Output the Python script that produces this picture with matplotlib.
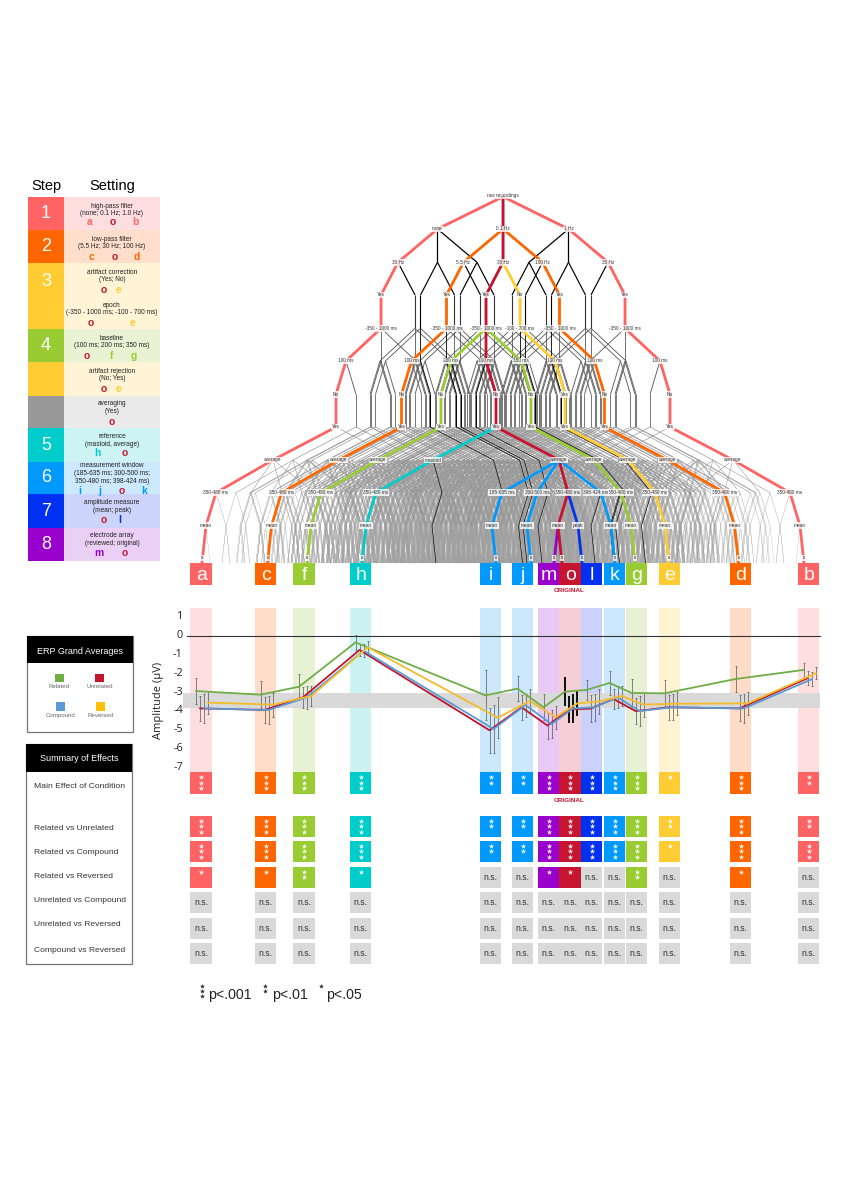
import matplotlib
matplotlib.use('Agg')
import matplotlib.pyplot as plt
from matplotlib.collections import LineCollection
from matplotlib.patches import Rectangle
from matplotlib.transforms import ScaledTranslation

plt.rcParams['font.family'] = ['Liberation Sans', 'DejaVu Sans']

# ---- data ----
letters = ['a', 'c', 'f', 'h', 'i', 'j', 'm', 'o', 'l', 'k', 'g', 'e', 'd', 'b']

related = [-2.92, -3.11, -2.69, -0.34, -3.15, -2.79, -3.78, -2.95, -2.86, -2.49, -3.02, -3.04, -2.28, -1.80]
unrelated = [-3.84, -3.92, -3.25, -0.74, -5.00, -3.78, -4.75, -3.89, -3.85, -3.34, -3.98, -3.78, -3.84, -2.24]
compound = [-3.84, -3.92, -3.25, -0.78, -4.93, -3.66, -4.67, -3.84, -3.78, -3.25, -3.98, -3.78, -3.84, -2.30]
reversed_ = [-3.53, -3.64, -3.18, -0.60, -4.33, -3.45, -4.31, -3.57, -3.48, -3.18, -3.64, -3.59, -3.57, -1.98]

related_err = [.71, .72, .65, .40, 1.33, .66, .68, .71, .51, .62, .74, .70, .71, .37]
unrelated_err = [.66, .69, .57, .33, 1.18, .65, .69, .68, .71, .55, .70, .65, .69, .37]
compound_err = [.75, .76, .62, .34, 1.28, .61, .74, .73, .72, .59, .79, .68, .75, .37]
reversed_err = [.62, .64, .51, .34, 1.09, .64, .62, .62, .65, .53, .64, .62, .62, .32]

main_effect = [3, 3, 3, 3, 2, 2, 3, 3, 3, 3, 3, 1, 3, 2]
rel_unrel = [3, 3, 3, 3, 2, 2, 3, 3, 3, 3, 3, 2, 3, 2]
rel_comp = [3, 3, 3, 3, 2, 2, 3, 3, 3, 3, 3, 1, 3, 3]
rel_rev = [1, 1, 2, 1, 0, 0, 1, 1, 0, 0, 2, 0, 1, 0]
unrel_comp = [0] * 14
unrel_rev = [0] * 14
comp_rev = [0] * 14

row_names = ['Main Effect of Condition', 'Related vs Unrelated', 'Related vs Compound', 'Related vs Reversed',
             'Unrelated vs Compound', 'Unrelated vs Reversed', 'Compound vs Reversed']

steps = ['1', '2', '3', '', '4', '', '', '5', '6', '7', '8']
settings = ['high-pass filter\n(none; 0.1 Hz; 1.0 Hz)', 'low-pass filter\n(5.5 Hz; 30 Hz; 100 Hz)',
            'artifact correction\n(Yes; No)', 'epoch\n(-350 - 1000 ms; -100 - 700 ms)',
            'baseline\n(100 ms; 200 ms; 350 ms)', 'artifact rejection\n(No; Yes)', 'averaging\n(Yes)',
            'reference\n(mastoid, average)', 'measurement window\n(185-635 ms; 300-500 ms;\n350-480 ms; 398-424 ms)',
            'amplitude measure\n(mean; peak)', 'electrode array\n(reviewed; original)']
setting_letters = ['a o b', 'c o d', 'o e', 'o e', 'o f g', 'o e', 'o', 'h o', 'i j o k', 'o l', 'm o']

# choice taken at each decision of the tree, for every labelled pipeline
paths = {
    'a': [0, 0, 0, 0, 0, 0, 0, 0, 0, 0, 0],
    'b': [2, 2, 1, 0, 2, 1, 0, 1, 3, 1, 1],
    'c': [1, 0, 0, 0, 0, 0, 0, 0, 0, 0, 0],
    'd': [1, 2, 1, 0, 2, 1, 0, 1, 3, 1, 1],
    'e': [1, 1, 1, 0, 2, 1, 0, 1, 2, 1, 1],
    'f': [1, 1, 0, 0, 0, 0, 0, 0, 0, 0, 0],
    'g': [1, 1, 0, 0, 2, 1, 0, 1, 2, 1, 1],
    'h': [1, 1, 0, 0, 1, 1, 0, 0, 0, 0, 0],
    'i': [1, 1, 0, 0, 1, 1, 0, 1, 0, 0, 1],
    'j': [1, 1, 0, 0, 1, 1, 0, 1, 1, 0, 1],
    'k': [1, 1, 0, 0, 1, 1, 0, 1, 3, 1, 1],
    'l': [1, 1, 0, 0, 1, 1, 0, 1, 2, 1, 1],
    'm': [1, 1, 0, 0, 1, 1, 0, 1, 2, 0, 0],
    'o': [1, 1, 0, 0, 1, 1, 0, 1, 2, 0, 1],
}
path_labels = {
    'a': ['none', '30 Hz', 'Yes', '-350 - 1000 ms', '100 ms', 'No', 'Yes', 'average', '350-480 ms', 'mean', 'B'],
    'b': ['1 Hz', '30 Hz', 'Yes', '-350 - 1000 ms', '100 ms', 'No', 'Yes', 'average', '350-480 ms', 'mean', 'B'],
    'c': ['0.1 Hz', '5.5 Hz', 'Yes', '-350 - 1000 ms', '100 ms', 'No', 'Yes', 'average', '350-480 ms', 'mean', 'B'],
    'd': ['0.1 Hz', '100 Hz', 'Yes', '-350 - 1000 ms', '100 ms', 'No', 'Yes', 'average', '350-480 ms', 'mean', 'B'],
    'e': ['0.1 Hz', '30 Hz', 'No', '-100 - 700 ms', '100 ms', 'Yes', 'Yes', 'average', '350-480 ms', 'mean', 'B'],
    'f': ['0.1 Hz', '30 Hz', 'Yes', '-350 - 1000 ms', '200 ms', 'No', 'Yes', 'average', '350-480 ms', 'mean', 'B'],
    'g': ['0.1 Hz', '30 Hz', 'Yes', '-350 - 1000 ms', '350 ms', 'No', 'Yes', 'average', '350-480 ms', 'mean', 'B'],
    'h': ['0.1 Hz', '30 Hz', 'Yes', '-350 - 1000 ms', '100 ms', 'No', 'Yes', 'mastoid', '350-480 ms', 'mean', 'B'],
    'i': ['0.1 Hz', '30 Hz', 'Yes', '-350 - 1000 ms', '100 ms', 'No', 'Yes', 'average', '185-635 ms', 'mean', 'B'],
    'j': ['0.1 Hz', '30 Hz', 'Yes', '-350 - 1000 ms', '100 ms', 'No', 'Yes', 'average', '300-500 ms', 'mean', 'B'],
    'k': ['0.1 Hz', '30 Hz', 'Yes', '-350 - 1000 ms', '100 ms', 'No', 'Yes', 'average', '398-424 ms', 'mean', 'B'],
    'l': ['0.1 Hz', '30 Hz', 'Yes', '-350 - 1000 ms', '100 ms', 'No', 'Yes', 'average', '350-480 ms', 'peak', 'B'],
    'm': ['0.1 Hz', '30 Hz', 'Yes', '-350 - 1000 ms', '100 ms', 'No', 'Yes', 'average', '350-480 ms', 'mean', 'B'],
    'o': ['0.1 Hz', '30 Hz', 'Yes', '-350 - 1000 ms', '100 ms', 'No', 'Yes', 'average', '350-480 ms', 'mean', 'B'],
}

# ---- layout and colours ----
PINK, ORANGE, GREEN, CYAN = '#ff6363', '#ff6600', '#99cc33', '#00cccc'
BLUE, PURPLE, RED, NAVY, YELLOW = '#0099ff', '#9900cc', '#c8152f', '#0030f0', '#ffcc33'
col_color = dict(a=PINK, b=PINK, c=ORANGE, d=ORANGE, f=GREEN, g=GREEN, h=CYAN, i=BLUE, j=BLUE, k=BLUE,
                 l=NAVY, m=PURPLE, o=RED, e=YELLOW)
col_left = [190.5, 255, 293.5, 350, 480, 512, 538, 559.5, 581, 604, 626, 659, 730, 798]
col_w = 21.5

fig = plt.figure(figsize=(8.49, 12), dpi=100)
bg = fig.add_axes([0, 0, 1, 1])
bg.set_xlim(0, 849)
bg.set_ylim(1200, 0)
bg.axis('off')


def rect(x0, y0, x1, y1, color, z=1, **kw):
    bg.add_patch(Rectangle((x0, y0), x1 - x0, y1 - y0, facecolor=color, edgecolor='none', zorder=z, **kw))


# ---- step / setting table ----
bg.text(46, 186, 'Step', fontsize=10.5, ha='center', va='center')
bg.text(112, 186, 'Setting', fontsize=10.5, ha='center', va='center')
row_edges = [196.7, 230, 262.7, 296, 329.3, 362.3, 395.7, 428.3, 461.7, 494.3, 528, 561]
row_dark = [PINK, ORANGE, YELLOW, YELLOW, GREEN, YELLOW, '#999999', CYAN, BLUE, NAVY, PURPLE]
row_light = ['#ffdedf', '#ffdfcc', '#fff4d6', '#fff4d6', '#e9f2d3', '#fff4d6', '#eaeaea', '#ccf4f4', '#cce9fd',
             '#ccd4fc', '#ead0f4']
text_y = [210, 243, 276, 309, 342, 375, 407.7, 440.7, 473.7, 506.7, 539.7]
letter_y = [222, 256.7, 290, 323, 356, 389, 422, 452.7, 490.7, 520.3, 553]
letter_x = [[90, 112.7, 135], [91.7, 114.3, 136.7], [103.7, 119], [90.3, 133], [87, 111.7, 133.7], [103.7, 118.3],
            [111.7], [97.7, 125], [79.7, 99.7, 122, 144], [104, 119.3], [99, 125]]
for r in range(11):
    y0, y1 = row_edges[r], row_edges[r + 1]
    rect(27.7, y0, 64.3, y1, row_dark[r])
    rect(64.3, y0, 160, y1, row_light[r])
    if steps[r]:
        ny = 281 if steps[r] == '3' else (y0 + y1) / 2
        bg.text(46, ny, steps[r], color='white', fontsize=13, ha='center', va='center')
    bg.text(112, text_y[r], settings[r], fontsize=4.7, ha='center', va='center', color='#222222', linespacing=1.15)
    for lx, ch in zip(letter_x[r], setting_letters[r].split()):
        bg.text(lx, letter_y[r], ch, fontsize=7.4, fontweight='bold', ha='center', va='center', color=col_color[ch])

# ---- multiverse tree ----
level_y = [196.7, 229, 262.3, 295, 328.3, 361, 394.3, 427, 460, 492.7, 525.7, 563]
offsets = [[-65.5, 0, 65.5], [-39.5, 0, 39.5], [-17, 17], [0], [-35, 0, 35], [-10, 10], [0], [-63, 63],
           [-57, -22, 9, 42], [-10, 10], [-4, 4]]
mirror_offsets = [-42, -9, 27, 57]
edge_color = ['k', 'k', 'k', '#333333', '#555555', '#666666', '#777777', '#999999', '#999999', '#999999', '#a0a0a0']
edge_lw = [.9, .9, .85, .8, .6, .7, .7, .5, .4, .25, .18]


def level_offsets(level, x):
    if level == 8 and x > 570:
        return mirror_offsets
    return offsets[level]


grey_segs = [[] for _ in offsets]
dark_segs = [[] for _ in offsets]
o_path = paths['o']


def walk(level, x, dev):
    if level == len(offsets):
        return
    for i, off in enumerate(level_offsets(level, x)):
        xc = x + off
        d = dev + (i != o_path[level])
        seg = [(x, level_y[level]), (xc, level_y[level + 1])]
        if level <= 2 or d <= 1:
            dark_segs[level].append(seg)
        else:
            grey_segs[level].append(seg)
        walk(level + 1, xc, d)


root_x = 503
walk(0, root_x, 0)
for lv in range(len(offsets)):
    bg.add_collection(LineCollection(grey_segs[lv], colors=edge_color[lv], linewidths=edge_lw[lv], zorder=2))
for lv in range(len(offsets)):
    bg.add_collection(LineCollection(dark_segs[lv], colors='k', linewidths=max(edge_lw[lv], .45), zorder=3))


def path_xs(choices):
    xs = [root_x]
    for lv, c in enumerate(choices):
        xs.append(xs[-1] + level_offsets(lv, xs[-1])[c])
    return xs


for name in [k for k in paths if k != 'o'] + ['o']:
    xs = path_xs(paths[name])
    start = 0
    if name != 'o':
        while paths[name][start] == o_path[start]:
            start += 1
    bg.plot(xs[start:], level_y[start:], color=col_color[name] if name != 'o' else '#c4122f', lw=2.0,
            solid_capstyle='round', solid_joinstyle='round', zorder=4)

label_box = dict(facecolor='white', edgecolor='none', alpha=.8, pad=.5)
bg.text(root_x, level_y[0] - 1, 'raw recordings', fontsize=3.4, color='#333333', ha='center', va='center',
        bbox=label_box, zorder=5)
seen = set()
for name in paths:
    xs = path_xs(paths[name])
    for lv, lab in enumerate(path_labels[name]):
        key = (round(xs[lv + 1], 1), lv)
        if key in seen:
            continue
        seen.add(key)
        yy = 558 if lv == 10 else level_y[lv + 1]
        # the 398-424 ms label sits left of its node, clear of the next window label
        lx = xs[lv + 1] - 5 if (name, lv) == ('k', 8) else xs[lv + 1]
        bg.text(lx, yy, lab, fontsize=3.4 if lv < 10 else 2.6, color='#333333', ha='center', va='center',
                bbox=label_box, zorder=5)

# column letters
light = dict(a='#ffdede', b='#ffdede', c='#ffdcc8', d='#ffdcc8', f='#e8f1d4', g='#e8f1d4', h='#ccf3f3',
             i='#cce8fc', j='#cce8fc', k='#cce8fc', l='#c9d2fc', m='#e8c9f4', o='#f5cfd4', e='#fff3d4')
for name, x0 in zip(letters, col_left):
    rect(x0, 563, x0 + col_w, 584.5, col_color[name], z=6)
    bg.text(x0 + col_w / 2, 580, name, color='white', fontsize=14, ha='center', va='baseline', zorder=7)
    rect(x0, 608, x0 + col_w, 772, light[name])
bg.text(569.3, 590.5, 'ORIGINAL', color=RED, fontsize=4.6, fontweight='bold', ha='center', va='center')
bg.text(569.3, 800.3, 'ORIGINAL', color=RED, fontsize=4.6, fontweight='bold', ha='center', va='center')

# ---- ERP amplitude chart ----
px_per_uv = 18.86
ax = fig.add_axes([160 / 849, 1 - 772 / 1200, 670 / 849, 164 / 1200])
ax.set_xlim(160, 830)
ax.set_ylim((636 - 772) / px_per_uv, (636 - 608) / px_per_uv)
ax.patch.set_alpha(0)
for s in ax.spines.values():
    s.set_visible(False)
ax.set_xticks([])
ax.set_yticks(range(-7, 2))
ax.set_yticklabels(['-7', '-6', '-5', '-4', '-3', '-2', '-1', '0', '1'], fontsize=7.8, family='Open Sans', color='#222222')
ax.tick_params(axis='y', length=0, pad=-16.5)
for lab in ax.get_yticklabels():
    lab.set_transform(lab.get_transform() + ScaledTranslation(0, 2 / 100, fig.dpi_scale_trans))
ax.text(159, -3.42, 'Amplitude (µV)', rotation=90, fontsize=8, family='Open Sans', color='#222222', ha='center',
        va='center', clip_on=False)
ax.fill_between([183, 820], -3.84, -3.0, color='#d9d9d9', lw=0, zorder=1)
ax.plot([187, 819.5], [0, 0], color='#333333', lw=.8, zorder=2)

series = [(related, related_err, '#70ad47', -5.2), (unrelated, unrelated_err, '#c0152b', -1.2),
          (compound, compound_err, '#5b9bd5', 2.8), (reversed_, reversed_err, '#f4bc2c', 7.0)]
for vals, errs, color, dx in series:
    xs = [x0 + col_w / 2 + dx for x0 in col_left]
    ax.plot(xs, vals, color=color, lw=1.3, zorder=4)
    ebar_lw = [1.3 if n == 'o' else .5 for n in letters]
    for xv, v, e, w in zip(xs, vals, errs, ebar_lw):
        c = 'k' if w > 1 else '#555555'
        ax.errorbar(xv, v, yerr=e, color=c, elinewidth=w, capsize=1, capthick=w, zorder=3)

# ---- significance grid ----
row_tops = [772, 815.7, 840.7, 866.7, 891.7, 917.7, 942.7]
row_counts = [main_effect, rel_unrel, rel_comp, rel_rev, unrel_comp, unrel_rev, comp_rev]
for top, counts in zip(row_tops, row_counts):
    for name, x0, n in zip(letters, col_left, counts):
        cx = x0 + col_w / 2
        if n == 0:
            rect(x0, top, x0 + col_w, top + 21.6, '#d9d9d9')
            bg.text(cx, top + 10.5, 'n.s.', fontsize=6.2, color='#333333', ha='center', va='center')
        else:
            rect(x0, top, x0 + col_w, top + 21.6, col_color[name])
            bg.scatter([cx] * n, [top + 5 + 5.5 * i for i in range(n)], s=11, marker='*', color='white', lw=.2, zorder=3)

# ---- side panels ----
bg.add_patch(Rectangle((27.3, 636), 106, 96, facecolor='white', edgecolor='#777777', lw=.9, zorder=1))
rect(27.3, 636, 133.3, 663, 'k', z=2)
bg.text(80.3, 651, 'ERP Grand Averages', color='white', fontsize=6.5, ha='center', va='center', zorder=3)
legend_names = ['Related', 'Unrelated', 'Compound', 'Reversed']
legend_colors = ['#70ad47', '#c0152b', '#5b9bd5', '#ffc000']
legend_x = [59.3, 99.3, 60.7, 100.3]
legend_y = [678, 678, 706.3, 706.3]
for nm, c, lx, ly in zip(legend_names, legend_colors, legend_x, legend_y):
    rect(lx - 4.3, ly - 4.3, lx + 4.3, ly + 4.3, c, z=2)
    bg.text(lx, ly + 9, nm, fontsize=4.4, color='#666666', ha='center', va='center', zorder=3)

bg.add_patch(Rectangle((26.5, 744.3), 106, 219.7, facecolor='white', edgecolor='#777777', lw=.9, zorder=1))
rect(26.5, 744.3, 132.5, 771.7, 'k', z=2)
bg.text(79.3, 758.3, 'Summary of Effects', color='white', fontsize=6.5, ha='center', va='center', zorder=3)
row_label_y = [786, 828.3, 852.3, 877, 901, 925, 950]
for nm, ly in zip(row_names, row_label_y):
    bg.text(33.7, ly, nm, fontsize=6.1, color='#333333', ha='left', va='center', zorder=3)

# ---- p value key ----
key_text = ['p<.001', 'p<.01', 'p<.05']
key_stars = [3, 2, 1]
key_star_x = [201.7, 265, 321]
key_text_x = [208, 272.3, 326]
for txt, n, sx, tx in zip(key_text, key_stars, key_star_x, key_text_x):
    bg.text(tx, 994.5, txt, fontsize=10.2, color='#222222', ha='left', va='center')
    bg.scatter([sx] * n, [986 + 4.8 * i for i in range(n)], s=9, marker='*', color='#222222', lw=.2, zorder=3)

fig.savefig('out.png', dpi=100)
